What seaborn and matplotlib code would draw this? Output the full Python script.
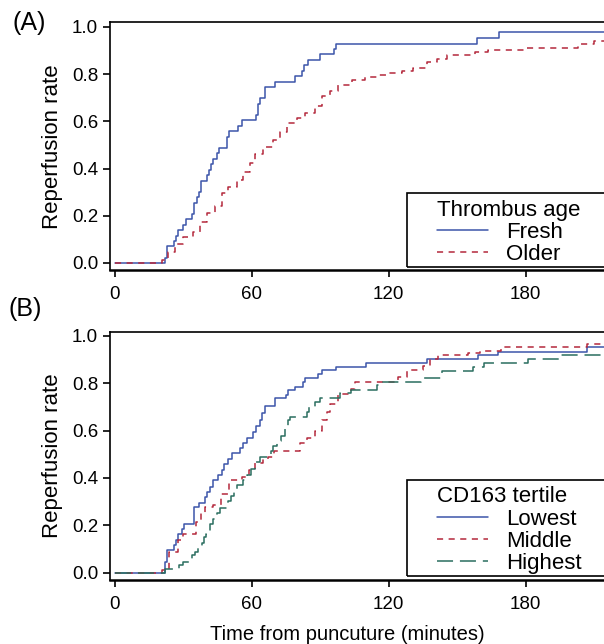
import numpy as np
import pandas as pd
import matplotlib
matplotlib.use('Agg')
import matplotlib.pyplot as plt
from matplotlib.patches import Rectangle
import seaborn as sns

# ---- Panel A: thrombus age (times in minutes, cumulative reperfusion rate) ----
fresh_time = [0, 22.0, 22.8, 26.0, 26.9, 27.9, 30.0, 31.1, 34.0, 34.9, 35.9, 37.0,
              37.9, 40.3, 41.1, 42.0, 42.9, 44.9, 45.8, 49.0, 49.9, 54.0, 55.8,
              61.9, 62.6, 63.6, 65.8, 70.1, 79.0, 81.9, 82.8, 84.8, 89.9, 96.0,
              96.8, 158.8, 168.2, 220]
fresh_rate = [0, 0.023, 0.070, 0.093, 0.116, 0.140, 0.163, 0.186, 0.209, 0.256,
              0.279, 0.302, 0.349, 0.372, 0.395, 0.419, 0.442, 0.465, 0.488, 0.535,
              0.558, 0.581, 0.605, 0.628, 0.674, 0.698, 0.744, 0.767, 0.791, 0.814,
              0.837, 0.860, 0.884, 0.907, 0.930, 0.953, 0.977, 0.977]

older_time = [0, 20.6, 23.5, 26.4, 29.8, 34.2, 37.4, 40.6, 43.9, 46.9, 49.8, 53.4,
              56.3, 59.3, 61.5, 65.1, 69.5, 72.4, 75.3, 79.7, 83.4, 87.8, 90.6,
              94.3, 97.9, 103.8, 109.6, 114.7, 119.8, 125.7, 130.8, 136.7, 141.0,
              145.4, 157.8, 163.6, 180.0, 203.0, 210.0, 220]
older_rate = [0, 0.013, 0.048, 0.080, 0.112, 0.133, 0.175, 0.210, 0.243, 0.295,
              0.323, 0.352, 0.387, 0.422, 0.462, 0.490, 0.521, 0.556, 0.595, 0.613,
              0.637, 0.665, 0.708, 0.730, 0.754, 0.775, 0.787, 0.797, 0.804, 0.815,
              0.825, 0.850, 0.864, 0.883, 0.894, 0.903, 0.912, 0.930, 0.940, 0.940]

# ---- Panel B: CD163 tertile ----
lowest_time = [0, 22.0, 23.1, 26.0, 26.9, 27.9, 29.6, 30.5, 34.9, 37.1, 39.6, 40.6,
               41.7, 42.9, 45.1, 46.9, 47.9, 49.5, 51.2, 54.9, 56.1, 57.8, 60.7,
               61.7, 63.6, 64.7, 65.8, 70.2, 75.0, 76.0, 79.0, 82.3, 83.3, 88.9,
               90.6, 96.8, 110.1, 136.9, 159.2, 168.0, 207.0, 220]
lowest_rate = [0, 0.046, 0.096, 0.117, 0.138, 0.162, 0.183, 0.206, 0.279, 0.296,
               0.321, 0.342, 0.363, 0.392, 0.413, 0.434, 0.459, 0.479, 0.504, 0.525,
               0.549, 0.568, 0.596, 0.620, 0.645, 0.673, 0.704, 0.737, 0.751, 0.772,
               0.786, 0.807, 0.821, 0.839, 0.856, 0.870, 0.885, 0.901, 0.918, 0.934,
               0.952, 0.952]

middle_time = [0, 20.5, 23.8, 27.9, 29.8, 35.6, 37.8, 39.6, 43.2, 46.6, 50.1, 55.6,
               59.0, 61.5, 65.1, 67.3, 69.8, 81.2, 84.1, 87.7, 90.6, 92.8, 94.3,
               98.0, 103.5, 105.2, 124.0, 127.8, 135.2, 138.1, 141.8, 154.9, 160.0,
               169.0, 207.0, 220]
middle_rate = [0, 0.011, 0.089, 0.138, 0.162, 0.215, 0.251, 0.276, 0.286, 0.332,
               0.392, 0.406, 0.434, 0.462, 0.479, 0.487, 0.515, 0.546, 0.568, 0.600,
               0.645, 0.680, 0.713, 0.755, 0.775, 0.807, 0.828, 0.856, 0.873, 0.901,
               0.920, 0.930, 0.938, 0.952, 0.966, 0.966]

highest_time = [0, 22.0, 28.2, 30.1, 33.7, 35.2, 36.6, 38.1, 39.1, 40.0, 41.7, 43.2,
                44.7, 46.0, 49.8, 51.0, 52.3, 53.7, 56.3, 58.0, 59.5, 61.5, 63.6,
                68.3, 69.5, 70.9, 72.8, 74.6, 76.0, 76.8, 84.1, 84.9, 87.7, 89.9,
                98.7, 103.5, 114.7, 117.0, 134.0, 143.2, 156.8, 161.8, 181.2, 195.0,
                220]
highest_rate = [0, 0.015, 0.032, 0.046, 0.075, 0.089, 0.103, 0.124, 0.152, 0.163,
                0.206, 0.225, 0.254, 0.272, 0.303, 0.324, 0.342, 0.370, 0.392, 0.413,
                0.438, 0.469, 0.487, 0.514, 0.535, 0.558, 0.579, 0.610, 0.645, 0.659,
                0.680, 0.699, 0.723, 0.737, 0.758, 0.772, 0.793, 0.807, 0.821, 0.854,
                0.870, 0.887, 0.901, 0.920, 0.920]

x_ticks = [0, 60, 120, 180]
y_ticks = [0.0, 0.2, 0.4, 0.6, 0.8, 1.0]

BLUE = '#3C55AA'
RED = '#B4283C'
GREEN = '#2A6E5F'
SHORT_DASH = (0, (4.0, 3.6))
LONG_DASH = (0, (10.5, 4.5))

sns.set_theme(style='ticks')
plt.rcParams['font.family'] = ['Liberation Sans', 'DejaVu Sans']
plt.rcParams['axes.edgecolor'] = 'black'
plt.rcParams['xtick.color'] = 'black'
plt.rcParams['ytick.color'] = 'black'
plt.rcParams['text.color'] = 'black'
plt.rcParams['axes.labelcolor'] = 'black'

W, H = 604, 644
fig = plt.figure(figsize=(W / 100, H / 100), dpi=100)
fig.patch.set_facecolor('white')

# axes boxes in pixels: left 110, right 615 (beyond the crop), tops/bottoms per panel
ax_a = fig.add_axes([110 / W, 1 - 270 / H, 505 / W, 247.5 / H])
ax_b = fig.add_axes([110 / W, 1 - 580 / H, 505 / W, 248.3 / H])


def draw_curve(ax, times, rates, color, ls, label):
    df = pd.DataFrame({'time': times, 'rate': rates})
    sns.lineplot(data=df, x='time', y='rate', ax=ax, color=color, linestyle=ls,
                 drawstyle='steps-post', linewidth=1.1, estimator=None,
                 label=label, legend=False)


def style_axes(ax):
    ax.set_xlim(-2.06, 219.1)
    ax.set_xticks(x_ticks)
    ax.set_xticklabels([str(t) for t in x_ticks])
    ax.set_yticks(y_ticks)
    ax.set_yticklabels([f'{v:.1f}' for v in y_ticks])
    ax.set_ylabel('Reperfusion rate', fontsize=16)
    ax.yaxis.set_label_coords(-0.093, 0.5)
    ax.set_xlabel('')
    ax.spines['right'].set_visible(False)
    for side in ['left', 'top']:
        ax.spines[side].set_linewidth(1.2)
    ax.spines['bottom'].set_linewidth(1.8)
    ax.tick_params(axis='both', direction='out', length=5, width=1.2,
                   labelsize=13.5, color='black')
    ax.tick_params(axis='y', pad=3.5)
    ax.tick_params(axis='x', pad=6.5)
    ax.set_facecolor('white')


draw_curve(ax_a, fresh_time, fresh_rate, BLUE, '-', 'Fresh')
draw_curve(ax_a, older_time, older_rate, RED, SHORT_DASH, 'Older')
style_axes(ax_a)
ax_a.set_ylim(-0.0297, 1.019)

draw_curve(ax_b, lowest_time, lowest_rate, BLUE, '-', 'Lowest')
draw_curve(ax_b, middle_time, middle_rate, RED, SHORT_DASH, 'Middle')
draw_curve(ax_b, highest_time, highest_rate, GREEN, LONG_DASH, 'Highest')
style_axes(ax_b)
ax_b.set_ylim(-0.031, 1.018)
ax_b.set_xlabel('Time from puncuture (minutes)', fontsize=14.5)
ax_b.xaxis.set_label_coords(0.469, -0.18)

legend_kw = dict(loc='lower left', frameon=False, fontsize=16, title_fontsize=16,
                 handlelength=2.3, handletextpad=0.8, labelspacing=0.05,
                 borderpad=0.1, borderaxespad=0, alignment='left')
leg_a = ax_a.legend(title='Thrombus age', bbox_to_anchor=(0.6436, 0.012), **legend_kw)
leg_b = ax_b.legend(title='CD163 tertile', bbox_to_anchor=(0.6436, 0.016), **legend_kw)

fig.text(13 / W, 1 - 11 / H, '(A)', fontsize=18, va='top', ha='left')
fig.text(8 / W, 1 - 297 / H, '(B)', fontsize=18, va='top', ha='left')

# square black frame round each legend, wider on the left like the original
fig.canvas.draw()
inv = fig.transFigure.inverted()
for leg in [leg_a, leg_b]:
    bb = leg.get_window_extent()
    (x0, y0), (x1, y1) = inv.transform([[bb.x0 - 28, bb.y0], [W + 10, bb.y1 + 4]])
    fig.add_artist(Rectangle((x0, y0), x1 - x0, y1 - y0, transform=fig.transFigure,
                             fill=False, edgecolor='black', linewidth=1.2))

fig.savefig('out.png', dpi=100, facecolor='white')
